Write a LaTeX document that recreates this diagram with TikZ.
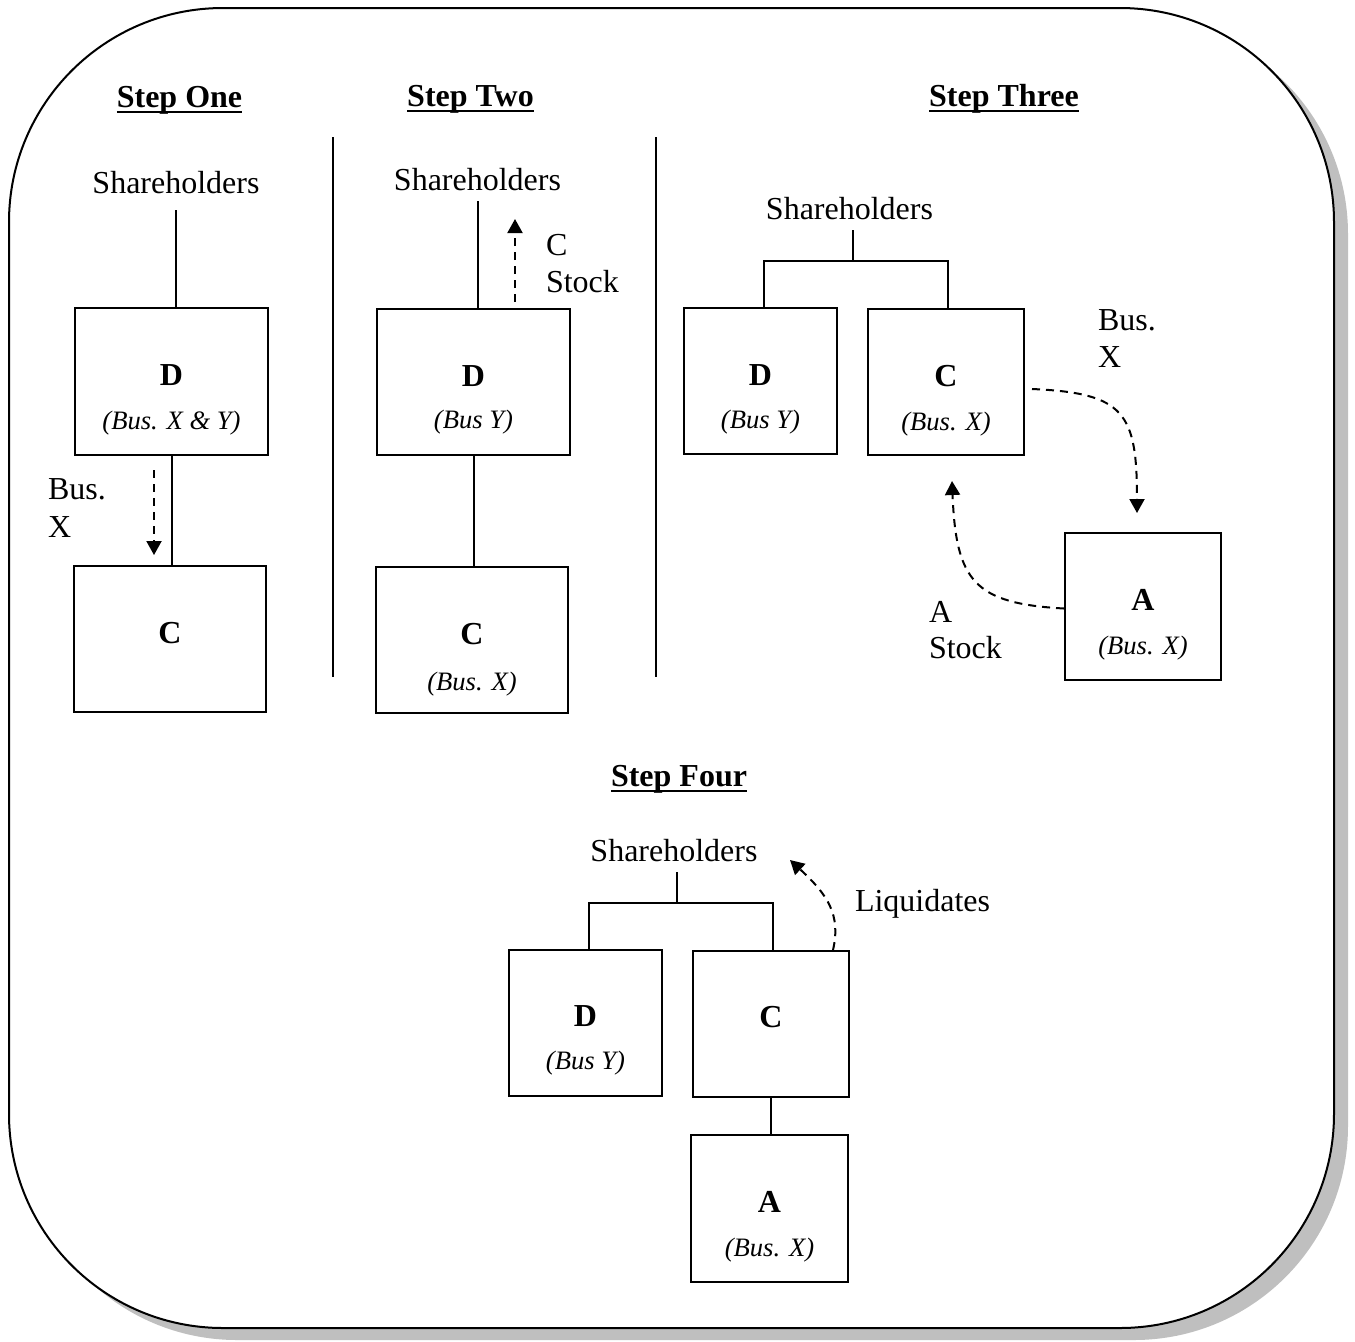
\documentclass[tikz,border=0pt]{standalone}
\usepackage{fontspec}
\setmainfont{Liberation Serif}
\usetikzlibrary{arrows.meta,calc}
\newcommand\stepul[1]{\setbox0\hbox{#1}\rlap{\rule[-3pt]{\wd0}{1pt}}\box0}
\begin{document}
\begin{tikzpicture}[x=0.5pt,y=-0.5pt,line width=1pt,
  boxnode/.style={draw,rectangle,inner sep=0pt,outer sep=0pt,line width=1pt},
  steptitle/.style={anchor=base,inner sep=0pt,font=\fontsize{16}{19}\selectfont\bfseries},
  shtext/.style={anchor=base,inner xsep=0pt,inner ysep=5pt,font=\fontsize{16}{19}\selectfont},
  lettr/.style={anchor=base,inner sep=0pt,font=\fontsize{16}{19}\selectfont\bfseries},
  subt/.style={anchor=base,inner sep=0pt,font=\fontsize{13.3}{16}\selectfont\itshape},
  lbl/.style={anchor=base west,inner sep=0pt,font=\fontsize{16}{19}\selectfont},
  flow/.style={dash pattern=on 4pt off 3pt,line width=1pt,-{Triangle[length=7pt,width=7.5pt]}},
  divider/.style={line width=1pt}
]
\useasboundingbox (0,0) rectangle (1355,1341);
% frame with shadow
\fill[gray!50,rounded corners=107pt] (23,20) rectangle (1348,1340);
\draw[fill=white,line width=1pt,rounded corners=107pt] (9,8) rectangle (1334,1328);

% dividers
\draw[divider] (333,137) -- (333,677);
\draw[divider] (656,137) -- (656,677);

% ---------- Step One ----------
\node[steptitle] (t1) at (179.5,107) {\stepul{Step One}};
\node[shtext] (sh1) at (176,193) {Shareholders};
\node[boxnode,minimum width=96.5pt,minimum height=73.5pt] (d1) at (171.5,381.5) {};
\node[lettr] (d1l) at ($(d1.center)+(0,4)$) {D};
\node[subt] (d1s) at ($(d1.center)+(0,48)$) {(Bus. X \& Y)};
\node[boxnode,minimum width=96pt,minimum height=73pt] (c1) at (170,639) {};
\node[lettr] (c1l) at ($(c1.center)+(0,4)$) {C};
\draw[shorten <=3pt] (sh1.south) -- (sh1.south |- d1.north);
\draw (d1.south) -- (d1.south |- c1.north);
\draw[flow] ($(d1.south)+(-17.5,15)$) -- ($(c1.north)+(-16,-11)$);
\node[lbl] (bx1a) at (47,499) {Bus.};
\node[lbl] (bx1b) at (47,537) {X};

% ---------- Step Two ----------
\node[steptitle] (t2) at (470.5,106) {\stepul{Step Two}};
\node[shtext] (sh2) at (477.5,190) {Shareholders};
\node[boxnode,minimum width=96.5pt,minimum height=73pt] (d2) at (473.5,382) {};
\node[lettr] (d2l) at ($(d2.center)+(0,4)$) {D};
\node[subt] (d2s) at ($(d2.center)+(0,46)$) {(Bus Y)};
\node[boxnode,minimum width=96pt,minimum height=73pt] (c2) at (472,640) {};
\node[lettr] (c2l) at ($(c2.center)+(0,4)$) {C};
\node[subt] (c2s) at ($(c2.center)+(0,50)$) {(Bus. X)};
\draw (sh2.south) -- (sh2.south |- d2.north);
\draw (d2.south) -- (d2.south |- c2.north);
\coordinate (e2) at ($(d2.north)+(41.5,-90)$);
\draw[flow] ($(d2.north)+(41.5,-7)$) -- (e2);
\node[lbl] (cs2a) at (545,255) {C};
\node[lbl] (cs2b) at (545,292) {Stock};

% ---------- Step Three ----------
\node[steptitle] (t3) at (1004,106) {\stepul{Step Three}};
\node[shtext] (sh3) at (849.5,219) {Shareholders};
\node[boxnode,minimum width=76.5pt,minimum height=73pt] (d3) at (760.5,381) {};
\node[lettr] (d3l) at ($(d3.center)+(0,4)$) {D};
\node[subt] (d3s) at ($(d3.center)+(0,47)$) {(Bus Y)};
\node[boxnode,minimum width=78pt,minimum height=73pt] (c3) at (946,382) {};
\node[lettr] (c3l) at ($(c3.center)+(0,4)$) {C};
\node[subt] (c3s) at ($(c3.center)+(0,48)$) {(Bus. X)};
\node[boxnode,minimum width=78pt,minimum height=73.5pt] (a3) at (1143,606.5) {};
\node[lettr] (a3l) at ($(a3.center)+(0,4)$) {A};
\node[subt] (a3s) at ($(a3.center)+(0,48)$) {(Bus. X)};
\coordinate (j3) at (853,261);
\draw (sh3.south -| j3) -- (j3);
\draw ($(d3.north)+(3.5,0)$) |- (j3) -| ($(c3.north)+(2,0)$);
\draw[flow] ($(c3.east)+(8,7)$) .. controls +(93,4) and +(0,-100) .. ($(a3.north)+(-6,-20)$);
\draw[flow] ($(a3.west)+(-1,2)$) .. controls +(-90,-5) and +(4,100) .. ($(c3.south)+(6,26)$);
\node[lbl] (bx3a) at (1097,330) {Bus.};
\node[lbl] (bx3b) at (1097,367) {X};
\node[lbl] (as3a) at (928,622) {A};
\node[lbl] (as3b) at (928,658) {Stock};

% ---------- Step Four ----------
\node[steptitle] (t4) at (679,786) {\stepul{Step Four}};
\node[shtext] (sh4) at (674,861) {Shareholders};
\node[boxnode,minimum width=76.5pt,minimum height=73pt] (d4) at (585.5,1022.5) {};
\node[lettr] (d4l) at ($(d4.center)+(0,4)$) {D};
\node[subt] (d4s) at ($(d4.center)+(0,47)$) {(Bus Y)};
\node[boxnode,minimum width=78pt,minimum height=73pt] (c4) at (771,1024) {};
\node[lettr] (c4l) at ($(c4.center)+(0,3)$) {C};
\node[boxnode,minimum width=78.5pt,minimum height=73.5pt] (a4) at (769.5,1208.5) {};
\node[lettr] (a4l) at ($(a4.center)+(0,4)$) {A};
\node[subt] (a4s) at ($(a4.center)+(0,48)$) {(Bus. X)};
\coordinate (j4) at (677,903);
\draw (sh4.south -| j4) -- (j4);
\draw ($(d4.north)+(3.5,0)$) |- (j4) -| ($(c4.north)+(2,0)$);
\draw (c4.south) -- (c4.south |- a4.north);
\coordinate (liq) at (790,860);
\draw[flow] ($(c4.north east)+(-16,-1)$) .. controls +(8,-35) and +(38,35) .. (liq);
\node[lbl] (lq) at (854,911) {Liquidates};
\end{tikzpicture}
\end{document}
